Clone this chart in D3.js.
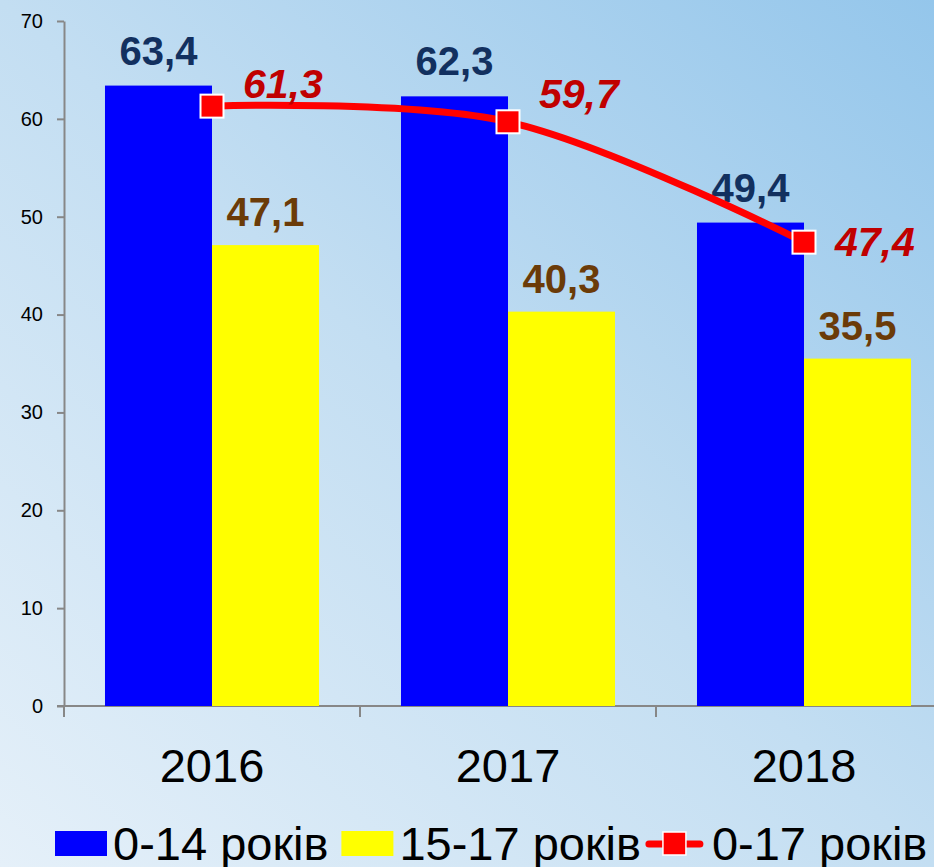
<!DOCTYPE html>
<html>
    <head>
        <meta charset="utf-8">
        <title>0-17 років</title>
        <script src="https://d3js.org/d3.v7.min.js"></script>
        <style>
            body { margin: 0; }
            text { font-family: Arial, 'Liberation Sans', sans-serif; }
            .axis path, .axis line { stroke: #878787; stroke-width: 2px; }
        </style>
    </head>
    <body>
        <div id="chart"></div>
        <script>
            const years = ['2016', '2017', '2018'];
            const kids = [63.4, 62.3, 49.4];      // 0-14 років
            const teens = [47.1, 40.3, 35.5];     // 15-17 років
            const total = [61.3, 59.7, 47.4];     // 0-17 років
            const yTicks = [0, 10, 20, 30, 40, 50, 60, 70];
            const seriesNames = ['0-14 років', '15-17 років', '0-17 років'];

            const svgWidth = 934,
                svgHeight = 867;

            const svg = d3.select('#chart').append('svg').attr('width', svgWidth).attr('height', svgHeight);

            const defs = svg.append('defs');
            const grad = defs.append('linearGradient').attr('id', 'bg').attr('x1', '0%').attr('y1', '100%').attr('x2', '100%').attr('y2', '0%');
            grad.append('stop').attr('offset', '0%').attr('stop-color', '#e5f0f9');
            grad.append('stop').attr('offset', '50%').attr('stop-color', '#c3def2');
            grad.append('stop').attr('offset', '100%').attr('stop-color', '#94c6eb');
            svg.append('rect').attr('width', svgWidth).attr('height', svgHeight).attr('fill', 'url(#bg)');

            const x0 = d3.scaleBand().domain(years).range([64, 952]);
            const x1 = d3.scaleBand().domain(['a', 'b']).range([0, x0.bandwidth()]).paddingOuter(0.383);
            const y = d3.scaleLinear().domain([0, 70]).range([706, 21]);

            // axes
            const yAxis = svg.append('g').attr('class', 'axis').attr('transform', 'translate(64,0)')
                .call(d3.axisLeft(y).tickValues(yTicks).tickSize(7).tickPadding(14).tickSizeOuter(0));
            yAxis.selectAll('text').attr('font-size', 20).attr('fill', '#000');

            const xAxis = svg.append('g').attr('class', 'axis').attr('transform', 'translate(0,706)')
                .call(d3.axisBottom(x0).tickSize(0).tickSizeOuter(0));
            xAxis.selectAll('.tick').remove();
            xAxis.select('.domain').attr('d', 'M57,0H952');
            xAxis.selectAll('.sep').data(years.concat(['end'])).enter().append('line')
                .attr('class', 'sep')
                .attr('x1', (d, i) => 64 + i * x0.step())
                .attr('x2', (d, i) => 64 + i * x0.step())
                .attr('y1', 0).attr('y2', 11);

            svg.selectAll('.year').data(years).enter().append('text')
                .attr('class', 'year')
                .attr('x', (d) => x0(d) + x0.bandwidth() / 2)
                .attr('y', 782)
                .attr('text-anchor', 'middle')
                .attr('font-size', 47)
                .text((d) => d);

            // bars
            svg.selectAll('.bar-a').data(kids).enter().append('rect')
                .attr('x', (d, i) => x0(years[i]) + x1('a'))
                .attr('y', (d) => y(d))
                .attr('width', x1.bandwidth())
                .attr('height', (d) => y(0) - y(d))
                .attr('fill', '#0000ff');
            svg.selectAll('.bar-b').data(teens).enter().append('rect')
                .attr('x', (d, i) => x0(years[i]) + x1('b'))
                .attr('y', (d) => y(d))
                .attr('width', x1.bandwidth())
                .attr('height', (d) => y(0) - y(d))
                .attr('fill', '#ffff00');

            const fmt = (v) => v.toFixed(1).replace('.', ',');

            svg.selectAll('.lab-a').data(kids).enter().append('text')
                .attr('x', (d, i) => x0(years[i]) + x1('a') + x1.bandwidth() / 2)
                .attr('y', (d) => y(d) - 21)
                .attr('text-anchor', 'middle')
                .attr('font-size', 40).attr('font-weight', 'bold')
                .attr('fill', '#12305f')
                .text(fmt);
            svg.selectAll('.lab-b').data(teens).enter().append('text')
                .attr('x', (d, i) => x0(years[i]) + x1('b') + x1.bandwidth() / 2)
                .attr('y', (d) => y(d) - 19)
                .attr('text-anchor', 'middle')
                .attr('font-size', 40).attr('font-weight', 'bold')
                .attr('fill', '#6b3b08')
                .text(fmt);

            // line
            const px = (i) => x0(years[i]) + x1('b');
            const line = d3.line()
                .x((d, i) => px(i))
                .y((d) => y(d))
                .curve(d3.curveCatmullRom.alpha(0.5));
            svg.append('path').datum(total)
                .attr('d', line)
                .attr('fill', 'none')
                .attr('stroke', '#ff0000')
                .attr('stroke-width', 7)
                .attr('stroke-linecap', 'round');

            svg.selectAll('.marker').data(total).enter().append('rect')
                .attr('x', (d, i) => px(i) - 11.5)
                .attr('y', (d) => y(d) - 11.5)
                .attr('width', 23).attr('height', 23)
                .attr('fill', '#ff0000')
                .attr('stroke', '#ffffff').attr('stroke-width', 2);

            const raise = [-8, -14, 14];
            svg.selectAll('.lab-c').data(total).enter().append('text')
                .attr('x', (d, i) => px(i) + 31)
                .attr('y', (d, i) => y(d) + raise[i])
                .attr('font-size', 41).attr('font-weight', 'bold').attr('font-style', 'italic')
                .attr('fill', '#c00000')
                .text(fmt);

            // legend
            const legend = svg.append('g');
            let lx = 55;
            const ly = 860;
            [0, 1, 2].forEach((k) => {
                if (k < 2) {
                    legend.append('rect').attr('x', lx).attr('y', 831).attr('width', 52).attr('height', 25)
                        .attr('fill', k === 0 ? '#0000ff' : '#ffff00');
                    lx += 58;
                } else {
                    const s = lx - 8;
                    legend.append('line').attr('x1', s + 3).attr('x2', s + 54).attr('y1', 844).attr('y2', 844)
                        .attr('stroke', '#ff0000').attr('stroke-width', 7).attr('stroke-linecap', 'round');
                    legend.append('rect').attr('x', s + 17).attr('y', 832).attr('width', 23).attr('height', 23)
                        .attr('fill', '#ff0000').attr('stroke', '#fff').attr('stroke-width', 1.5);
                    lx = s + 66;
                }
                const t = legend.append('text').attr('x', lx).attr('y', ly).attr('font-size', 47).text(seriesNames[k]);
                lx += t.node().getComputedTextLength() + 13;
            });
        </script>
    </body>
</html>
